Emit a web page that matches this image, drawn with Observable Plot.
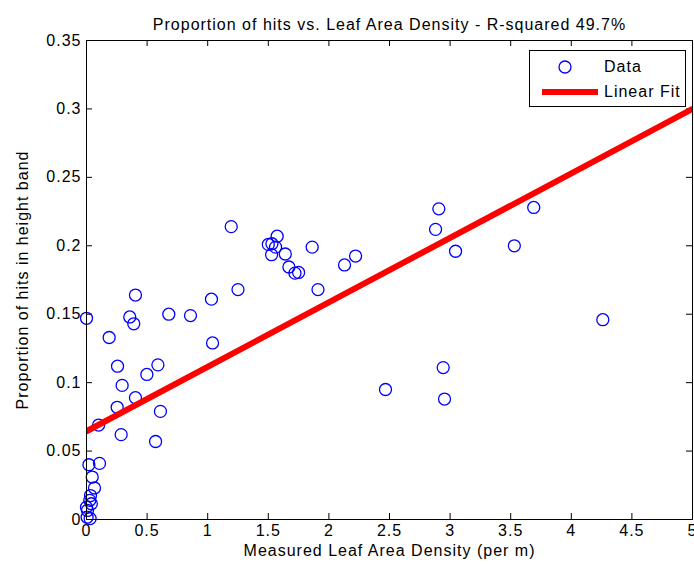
<!DOCTYPE html>
<html>
<head>
<meta charset="utf-8">
<script src="https://cdn.jsdelivr.net/npm/d3@7"></script>
<script src="https://cdn.jsdelivr.net/npm/@observablehq/plot@0.6"></script>
<style>
  html, body { margin: 0; padding: 0; background: #fff; }
  #wrap { position: relative; width: 694px; height: 569px; font-family: "Liberation Sans", Arial, sans-serif; }
  #legend { position: absolute; left: 529px; top: 50px; width: 157px; height: 57px; border: 1px solid #000; background: #fff; font-size: 16px; letter-spacing: 1px; box-sizing: border-box; }
  #legend .row { position: absolute; left: 0; height: 20px; display: flex; align-items: center; }
  #legend svg { display: block; }
</style>
</head>
<body>
<div id="wrap"></div>
<script>
// Data
const lad = [0.000, 0.187, 0.404, 0.357, 0.390, 0.256, 0.294, 0.253, 0.404, 0.286,
  0.498, 0.589, 0.610, 0.570, 0.679, 0.858, 1.031, 1.040, 1.194, 1.250,
  1.500, 1.530, 1.560, 1.573, 1.527, 1.640, 1.670, 1.720, 1.750, 1.862,
  1.910, 2.129, 2.220, 2.467, 2.880, 2.907, 3.045, 2.943, 2.954, 3.530,
  3.690, 4.260, 0.100,
  0.020, 0.107, 0.047, 0.066, 0.033, 0.027, 0.040, 0.008, 0.000, 0.005, 0.030];
const hits = [0.147, 0.133, 0.164, 0.148, 0.143, 0.112, 0.098, 0.082, 0.089, 0.062,
  0.106, 0.113, 0.079, 0.057, 0.150, 0.149, 0.161, 0.129, 0.214, 0.168,
  0.201, 0.2015, 0.199, 0.207, 0.1935, 0.194, 0.1845, 0.180, 0.1805, 0.199,
  0.168, 0.186, 0.1925, 0.095, 0.212, 0.227, 0.196, 0.111, 0.088, 0.200,
  0.228, 0.146, 0.069,
  0.040, 0.041, 0.031, 0.023, 0.0175, 0.014, 0.0115, 0.0066, 0.009, 0.0017, 0.0007];

const fitX = [0, 5];
const fitY = [0.0645, 0.3000];

const xTicks = [0, 0.5, 1, 1.5, 2, 2.5, 3, 3.5, 4, 4.5, 5];
const xTickLabels = ["0", "0.5", "1", "1.5", "2", "2.5", "3", "3.5", "4", "4.5", "5"];
const yTicks = [0, 0.05, 0.1, 0.15, 0.2, 0.25, 0.3, 0.35];
const yTickLabels = ["0", "0.05", "0.1", "0.15", "0.2", "0.25", "0.3", "0.35"];

const titleText = "Proportion of hits vs. Leaf Area Density - R-squared 49.7%";
const xLabel = "Measured Leaf Area Density (per m)";
const yLabel = "Proportion of hits in height band";
const legendLabels = ["Data", "Linear Fit"];

const points = lad.map((x, i) => ({x, y: hits[i]}));
const fit = fitX.map((x, i) => ({x, y: fitY[i]}));

const W = 694, H = 569;
const mL = 86, mR = 2, mT = 40, mB = 50;
const innerW = W - mL - mR, innerH = H - mT - mB;
const tickLen = 6;

const chart = Plot.plot({
  width: W,
  height: H,
  marginLeft: mL,
  marginRight: mR,
  marginTop: mT,
  marginBottom: mB,
  style: {fontFamily: "Liberation Sans, Arial, sans-serif", fontSize: "16px", letterSpacing: "1px", background: "#fff", color: "#000", overflow: "visible"},
  x: {domain: [0, 5], ticks: xTicks},
  y: {domain: [0, 0.35], ticks: yTicks},
  marks: [
    Plot.axisX({ticks: xTicks, tickSize: 0, tickPadding: 5, label: null, tickFormat: (d) => xTickLabels[xTicks.indexOf(d)], fontSize: 16}),
    Plot.axisY({ticks: yTicks, tickSize: 0, tickPadding: 5, label: null, tickFormat: (d) => yTickLabels[yTicks.indexOf(d)], fontSize: 16}),
    // inward ticks on all four sides
    Plot.tickX(xTicks, {x: d => d, insetTop: innerH - tickLen, stroke: "#000"}),
    Plot.tickX(xTicks, {x: d => d, insetBottom: innerH - tickLen, stroke: "#000"}),
    Plot.tickY(yTicks, {y: d => d, insetLeft: innerW - tickLen, stroke: "#000"}),
    Plot.tickY(yTicks, {y: d => d, insetRight: innerW - tickLen, stroke: "#000"}),
    Plot.dot(points, {x: "x", y: "y", r: 6, stroke: "#0000ff", strokeWidth: 1.3, fill: "none"}),
    Plot.line(fit, {x: "x", y: "y", stroke: "#ff0000", strokeWidth: 6, clip: true}),
    Plot.frame({stroke: "#000"}),
    Plot.text([titleText], {frameAnchor: "top", textAnchor: "middle", dy: -22, fontSize: 16, fill: "#000"}),
    Plot.text([xLabel], {frameAnchor: "bottom", textAnchor: "middle", dy: 36, fontSize: 16, fill: "#000"}),
    Plot.text([yLabel], {frameAnchor: "left", textAnchor: "middle", dx: -64, rotate: -90, fontSize: 16, fill: "#000"})
  ]
});

const wrap = document.getElementById("wrap");
wrap.appendChild(chart);

// Legend overlay
const legend = document.createElement("div");
legend.id = "legend";
legend.innerHTML = `
  <div class="row" style="top:6px;">
    <svg width="74" height="20"><circle cx="35" cy="10" r="6" fill="none" stroke="#0000ff" stroke-width="1.3"/></svg>
    <span>${legendLabels[0]}</span>
  </div>
  <div class="row" style="top:31px;">
    <svg width="74" height="20"><line x1="12" x2="68" y1="10" y2="10" stroke="#ff0000" stroke-width="6"/></svg>
    <span>${legendLabels[1]}</span>
  </div>`;
wrap.appendChild(legend);
</script>
</body>
</html>
